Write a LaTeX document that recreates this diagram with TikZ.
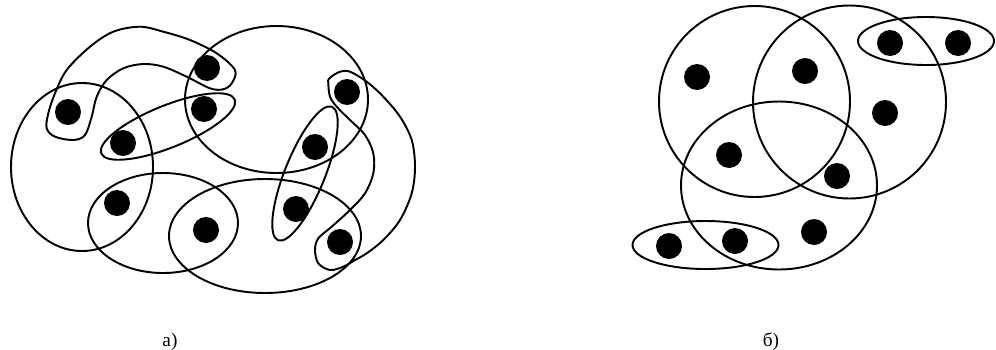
\documentclass[tikz,border=0pt]{standalone}
\usepackage{fontspec}
\setmainfont{Liberation Serif}
\usetikzlibrary{positioning}

\begin{document}
\begin{tikzpicture}[x=0.02cm,y=-0.02cm,line width=1.1pt,
  vert/.style={circle,fill=black,inner sep=0pt,minimum size=0.52cm},
  edge/.style={draw,line width=1.1pt},
  lbl/.style={font=\fontsize{11}{13}\selectfont,anchor=base}]
  \useasboundingbox (0,0) rectangle (996,349);
  % a) vertices
  \node[vert] (a1) at (68,112) {};
  \node[vert] (a2) at (207,68) {};
  \node[vert] (a3) at (204,109) {};
  \node[vert] (a4) at (123,143) {};
  \node[vert] (a5) at (347,92) {};
  \node[vert] (a6) at (315,147) {};
  \node[vert] (a7) at (117,203) {};
  \node[vert] (a8) at (206,230) {};
  \node[vert] (a9) at (296,209) {};
  \node[vert] (a10) at (340,242) {};
  % a) edges
  \path[edge] (82,167) ellipse [x radius=71, y radius=84];
  \path[edge] (276.5,99.5) ellipse [x radius=91.5, y radius=73.5];
  \path[edge] (163,223) ellipse [x radius=75, y radius=50];
  \path[edge] (265,236) ellipse [x radius=96, y radius=57];
  \path[edge] (305,173.5) ellipse [x radius=72, y radius=20, rotate=68];
  \path[edge] (168,126.5) ellipse [x radius=72, y radius=21, rotate=22];
  \path[edge] plot[smooth cycle,tension=0.55] coordinates {
    (235,70) (216.7,53.3) (190,40) (163.3,31.7) (140,26.7) (113.3,31.7)
    (90,46.7) (66.7,70) (55,93.3) (48.3,113.3) (46.7,128.3) (55,136.7)
    (73.3,140) (85,135) (91.7,116.7) (96.7,96.7) (106.7,80) (123.3,68.3)
    (143.3,64) (163.3,66.7) (186.7,76.7) (210,88.3) (223.3,89.3) (231.7,83.3)};
  \path[edge] plot[smooth cycle,tension=0.55] coordinates {
    (340,71.7) (329.3,78.3) (328.3,83.3) (330,96.7) (336.7,106.7) (350,120)
    (365,135) (373.3,153.3) (373.3,173.3) (365,193.3) (350,210) (331.7,226.7)
    (318.3,238.3) (315,250) (318.3,263.3) (330,270) (343.3,266.7) (355,260)
    (366.7,253.3) (383.3,240) (400,220) (411.7,193.3) (415,166.7) (411.7,140)
    (400,116.7) (383.3,96.7) (366.7,81.7) (350,71.7)};
  % b) vertices
  \node[vert] (b1) at (697,77) {};
  \node[vert] (b2) at (805,71) {};
  \node[vert] (b3) at (890,43) {};
  \node[vert] (b4) at (958,43) {};
  \node[vert] (b5) at (885,113) {};
  \node[vert] (b6) at (729,155) {};
  \node[vert] (b7) at (837,176) {};
  \node[vert] (b8) at (814,232) {};
  \node[vert] (b9) at (735,241) {};
  \node[vert] (b10) at (669,246) {};
  % b) edges
  \path[edge] (754.5,101.5) circle [radius=95.5];
  \path[edge] (849.5,102) circle [radius=96.5];
  \path[edge] (779,185.5) ellipse [x radius=98, y radius=84];
  \path[edge] (926,41) ellipse [x radius=68, y radius=24];
  \path[edge] (705.5,245) ellipse [x radius=73, y radius=24];
  % captions
  \node[lbl] (capa) at (170,346) {а)};
  \node[lbl] (capb) at (771,346) {б)};
\end{tikzpicture}
\end{document}
